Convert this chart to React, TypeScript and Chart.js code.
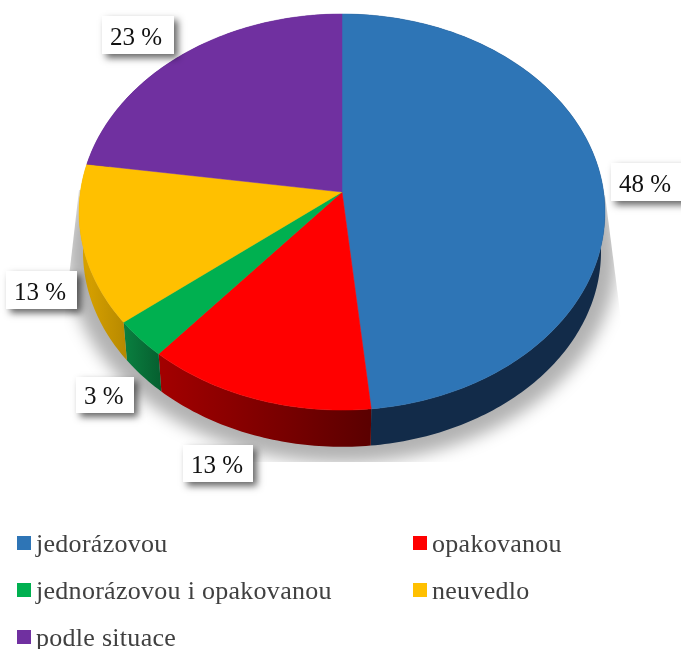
import React, { useEffect, useRef } from "react";
import { Chart, registerables } from "chart.js";

Chart.register(...registerables);

const categories = ["jedorázovou", "opakovanou", "jednorázovou i opakovanou", "neuvedlo", "podle situace"];
const shares = [48.4, 12.8, 3.1, 13.0, 22.7];
const topColors = ["#2E75B6", "#FF0000", "#00B050", "#FFC000", "#7030A0"];
const wallFrom = ["#122B49", "#A30000", "#0A8040", "#D6A000", "#4A2070"];
const wallTo = ["#142F50", "#5A0000", "#066030", "#B88A00", "#4A2070"];
const labelBoxes = [
  [611, 163, 80, 38],
  [183, 445, 70, 37],
  [76, 377, 58, 36],
  [6, 271, 71, 38],
  [102, 16, 72, 38],
];
const legendSpots = [
  [17, 536],
  [413, 536],
  [17, 583],
  [413, 583],
  [17, 630],
];

const CX = 342;
const CY = 192;
const AX = 261.6;
const BY = 196;
const K = 0.1011;
const DEPTH = 40;
const BOTTOM_SCALE = 0.985;

const project = (a: number, s = 1, dy = 0) => {
  const d = 1 - K * Math.sin(a);
  return [CX + (s * AX * Math.cos(a)) / d, CY + dy + (s * BY * Math.sin(a)) / d];
};

const tracePerimeter = (ctx: CanvasRenderingContext2D, a0: number, a1: number, s: number, dy: number, move: boolean) => {
  const n = Math.max(2, Math.ceil(Math.abs(a1 - a0) * 60));
  for (let i = 0; i <= n; i++) {
    const [x, y] = project(a0 + ((a1 - a0) * i) / n, s, dy);
    if (i === 0 && move) ctx.moveTo(x, y);
    else ctx.lineTo(x, y);
  }
};

const piePlugin = {
  id: "perspectivePie",
  beforeDatasetsDraw(chart: any) {
    const ctx: CanvasRenderingContext2D = chart.ctx;
    const arcs = chart.getDatasetMeta(0).data;

    // ground shadow
    ctx.save();
    ctx.beginPath();
    ctx.moveTo(605, 195);
    ctx.lineTo(623, 335);
    ctx.lineTo(623, 462);
    ctx.lineTo(64, 462);
    ctx.lineTo(64, 320);
    ctx.lineTo(79, 190);
    ctx.closePath();
    ctx.clip();
    ctx.filter = "blur(8px)";
    ctx.fillStyle = "rgba(0,0,0,0.30)";
    ctx.beginPath();
    tracePerimeter(ctx, 0, Math.PI * 2, 1.045, 43, true);
    ctx.closePath();
    ctx.fill();
    ctx.restore();

    // side walls
    arcs.forEach((arc: any, i: number) => {
      const [x0] = project(arc.startAngle);
      const [x1] = project(arc.endAngle);
      const g = ctx.createLinearGradient(Math.min(x0, x1), 0, Math.max(x0, x1) + 1, 0);
      g.addColorStop(0, x0 > x1 ? wallFrom[i] : wallTo[i]);
      g.addColorStop(1, x0 > x1 ? wallTo[i] : wallFrom[i]);
      ctx.beginPath();
      tracePerimeter(ctx, arc.startAngle, arc.endAngle, 1, 0, true);
      tracePerimeter(ctx, arc.endAngle, arc.startAngle, BOTTOM_SCALE, DEPTH, false);
      ctx.closePath();
      ctx.fillStyle = g;
      ctx.fill();
    });

    // top faces
    arcs.forEach((arc: any, i: number) => {
      ctx.beginPath();
      ctx.moveTo(CX, CY);
      tracePerimeter(ctx, arc.startAngle, arc.endAngle, 1, 0, false);
      ctx.closePath();
      ctx.fillStyle = topColors[i];
      ctx.strokeStyle = topColors[i];
      ctx.lineWidth = 0.5;
      ctx.fill();
      ctx.stroke();
    });
    return false;
  },
  afterDraw(chart: any) {
    const ctx: CanvasRenderingContext2D = chart.ctx;
    const values: number[] = chart.data.datasets[0].data;

    // value labels
    values.forEach((v, i) => {
      const [x, y, w, h] = labelBoxes[i];
      ctx.save();
      ctx.shadowColor = "rgba(0,0,0,0.6)";
      ctx.shadowBlur = 7;
      ctx.shadowOffsetX = 4;
      ctx.shadowOffsetY = 4;
      ctx.fillStyle = "#FFFFFF";
      ctx.fillRect(x, y, w, h);
      ctx.restore();
      ctx.fillStyle = "#111111";
      ctx.font = '25px "Liberation Serif"';
      ctx.textAlign = "left";
      ctx.textBaseline = "alphabetic";
      ctx.fillText(`${Math.round(v)} %`, x + 8, y + h - 9);
    });

    // legend
    chart.data.labels.forEach((label: string, i: number) => {
      const [x, y] = legendSpots[i];
      ctx.fillStyle = topColors[i];
      ctx.fillRect(x, y, 14, 14);
      ctx.fillStyle = "#404040";
      ctx.font = '26px "Liberation Serif"';
      (ctx as any).letterSpacing = "0.28px";
      ctx.textAlign = "left";
      ctx.textBaseline = "alphabetic";
      ctx.fillText(label, x + 19, y + 16);
      (ctx as any).letterSpacing = "0px";
    });
  },
};

export default function App() {
  const ref = useRef<HTMLCanvasElement>(null);
  useEffect(() => {
    const chart = new Chart(ref.current as HTMLCanvasElement, {
      type: "pie",
      data: {
        labels: categories,
        datasets: [{ data: shares, backgroundColor: topColors, borderWidth: 0 }],
      },
      options: {
        responsive: false,
        animation: false,
        plugins: { legend: { display: false }, tooltip: { enabled: false } },
      },
      plugins: [piePlugin],
    } as any);
    return () => chart.destroy();
  }, []);
  return (
    <div style={{ position: "absolute", left: 0, top: 0, width: 681, height: 649, overflow: "hidden", background: "#fff" }}>
      <canvas ref={ref} width={681} height={649} style={{ display: "block" }} />
    </div>
  );
}
